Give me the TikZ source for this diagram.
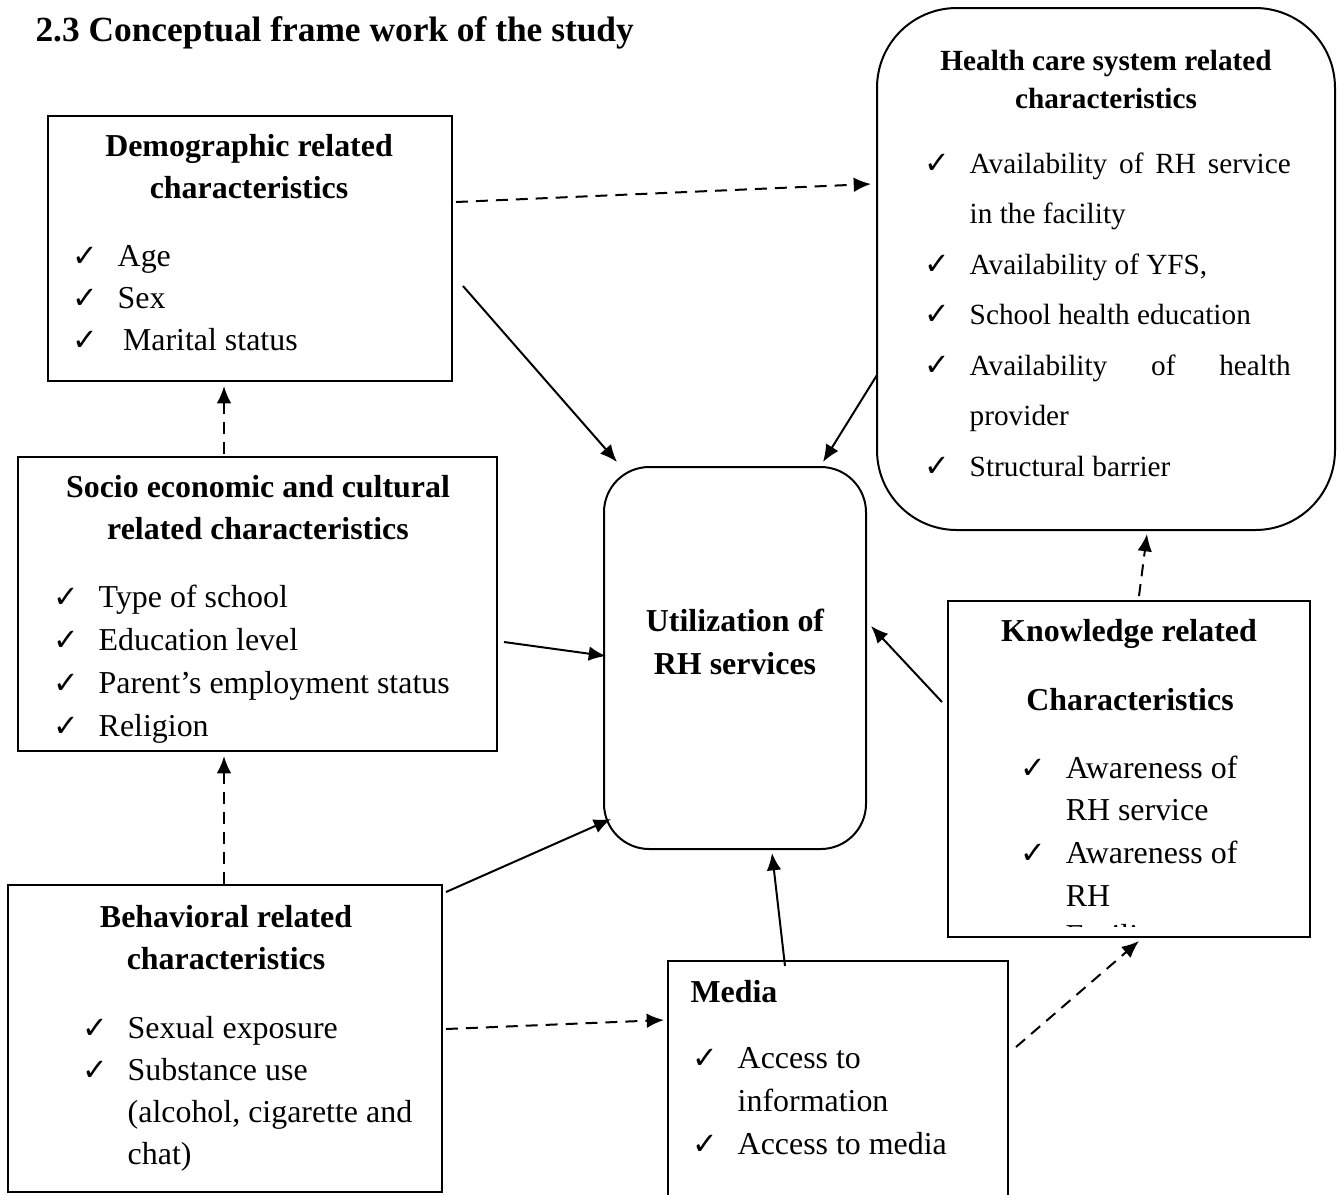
\documentclass[tikz,border=0pt]{standalone}
\usepackage{amsmath}
\usepackage{amssymb}
\usepackage{fontspec}
\setmainfont{Liberation Serif}
\newfontfamily\symfont{DejaVu Sans}
\usetikzlibrary{fit,calc,arrows.meta}

\newcommand{\tick}{\makebox[17pt][l]{\fontsize{11.5}{11.5}\selectfont\symfont ✓}}

\begin{document}
\begin{tikzpicture}[
  x = 0.376pt, y = -0.376pt,
  font = \fontsize{12}{14}\selectfont,
  box/.style = {draw, line width=0.75pt, inner sep=0pt},
  roundbox/.style = {box, rounded corners=#1},
  head/.style = {anchor=base, inner sep=0pt, font=\fontsize{12}{14}\selectfont\bfseries},
  item/.style = {anchor=base west, inner sep=0pt},
  link/.style = {line width=0.75pt, -{Latex[length=6.5pt,width=5.5pt]}},
  dlink/.style = {link, dash pattern=on 4.5pt off 3pt}
]
\useasboundingbox (0,0) rectangle (1338,1194);

\node[item, font=\fontsize{13.3}{16}\selectfont\bfseries] (title) at (35,41)
  {2.3 Conceptual frame work of the study};

\node[box, fit={(48,116) (452,381)}] (demo) {};
\node[roundbox=30pt, fit={(877,8) (1335,530)}] (health) {};
\node[box, fit={(18,457) (497,751)}] (socio) {};
\node[roundbox=17pt, fit={(604,467) (866,849)}] (util) {};
\node[box, fit={(948,601) (1310,937)}] (know) {};
\node[box, fit={(8,885) (442,1192)}] (behav) {};
\node[box, fit={(668,961) (1008,1210)}] (media) {};

\node[head] (demo-h1) at (249,156) {Demographic related};
\node[head] (demo-h2) at (249,198) {characteristics};
\foreach \t [count=\i] in {Age, Sex, {\hspace{2pt}Marital status}}
  \node[item] (demo-\i) at (72,224+42*\i) {\tick\t};

\node[head, font=\fontsize{11}{13}\selectfont\bfseries] (health-h1) at (1106,70) {Health care system related};
\node[head, font=\fontsize{11}{13}\selectfont\bfseries] (health-h2) at (1106,108) {characteristics};
\foreach \t [count=\i] in {
    {\tick\makebox[120.7pt][s]{Availability of RH service}},
    {\hspace{17pt}in the facility},
    {\tick Availability of YFS,},
    {\tick School health education},
    {\tick\makebox[120.7pt][s]{Availability of health}},
    {\hspace{17pt}provider},
    {\tick Structural barrier}}
  \node[item, font=\fontsize{11}{13}\selectfont] (health-\i) at (924,122.5+50.5*\i) {\t};

\node[head] (socio-h1) at (258,497) {Socio economic and cultural};
\node[head] (socio-h2) at (258,539) {related characteristics};
\foreach \t [count=\i] in {Type of school, Education level, Parent’s employment status, Religion}
  \node[item] (socio-\i) at (53,564+43*\i) {\tick\t};

\node[head] (util-h1) at (735,631) {Utilization of};
\node[head] (util-h2) at (735,674) {RH services};

\node[head] (know-h1) at (1129,641) {Knowledge related};
\node[head] (know-h2) at (1130,710) {Characteristics};
\foreach \t [count=\i] in {{\tick Awareness of}, {\hspace{17pt}RH service},
    {\tick Awareness of}, {\hspace{17pt}RH}}
  \node[item] (know-\i) at (1020,735.3+42.7*\i) {\t};
\begin{scope}
  \clip (948,890) rectangle (1310,926);
  \node[item] (know-5) at (1065,946) {Facility};
\end{scope}

\node[head] (behav-h1) at (226,927) {Behavioral related};
\node[head] (behav-h2) at (226,969) {characteristics};
\foreach \t [count=\i] in {{\tick Sexual exposure}, {\tick Substance use},
    {\hspace{17pt}(alcohol, cigarette and}, {\hspace{17pt}chat)}}
  \node[item] (behav-\i) at (82,996+42*\i) {\t};

\node[item, font=\fontsize{12}{14}\selectfont\bfseries] (media-h) at (690,1002) {Media};
\foreach \t [count=\i] in {{\tick Access to}, {\hspace{17pt}information}, {\tick Access to media}}
  \node[item] (media-\i) at (692,1025+43*\i) {\t};

\draw[dlink] ($(demo.north east)+(3,87)$) -- ($(health.north west)+(-5,177)$);
\draw[link] ($(demo.north east)+(10,171)$) -- ($(util.north west)+(14,-4)$);
\draw[link] ($(health.north west)+(1,368)$) -- ($(util.north east)+(-44,-4)$);
\draw[dlink] ($(socio.north west)+(207,-2)$) -- ($(demo.south west)+(177,4)$);
\draw[link] ($(socio.north east)+(6,186)$) -- ($(util.north west)+(3,190)$);
\draw[link] ($(know.north west)+(-5,102)$) -- ($(util.north east)+(4,160)$);
\draw[dlink] ($(know.north west)+(192,-4)$) -- ($(health.south west)+(271,3)$);
\draw[dlink] ($(behav.north west)+(217,0)$) -- ($(socio.south west)+(207,4)$);
\draw[link] ($(behav.north east)+(3,8)$) -- ($(util.south west)+(8,-31)$);
\draw[dlink] ($(behav.north east)+(3,145)$) -- ($(media.north west)+(-3,60)$);
\draw[link] ($(media.north west)+(118,6)$) -- ($(util.south west)+(169,3)$);
\draw[dlink] ($(media.north east)+(7,87)$) -- ($(know.south west)+(192,3)$);

\end{tikzpicture}
\end{document}
